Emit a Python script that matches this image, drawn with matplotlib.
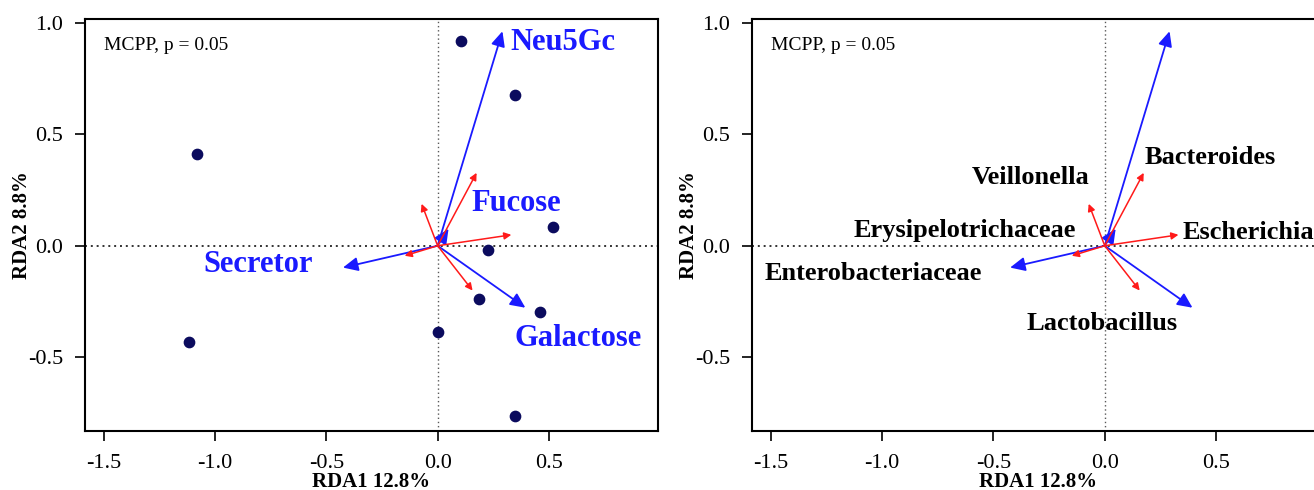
import matplotlib
matplotlib.use("Agg")
import matplotlib.pyplot as plt

# -----------------------------
# Data
# -----------------------------

site_x = [0.107, 0.349, -1.079, 0.519, 0.228, 0.184, 0.461, 0.0, -1.115, 0.349]
site_y = [0.918, 0.676, 0.412, 0.085, -0.018, -0.237, -0.295, -0.385, -0.434, -0.765]

# environmental vectors (blue)
env_x = [0.291, -0.425, 0.394, 0.049]
env_y = [0.962, -0.098, -0.278, 0.076]
env_labels = ["Neu5Gc", "Secretor", "Galactose", "Fucose"]
env_lab_x = [0.561, -0.807, 0.632, 0.354]
env_lab_y = [0.910, -0.085, -0.417, 0.188]

# genus vectors (red)
gen_x = [0.175, -0.072, 0.331, -0.148, 0.157]
gen_y = [0.327, 0.188, 0.049, -0.045, -0.201]

# right panel labels
taxa_labels = ["Bacteroides", "Veillonella", "Erysipelotrichaceae",
               "Escherichia", "Enterobacteriaceae", "Lactobacillus"]
taxa_lab_x = [0.473, -0.332, -0.628, 0.643, -1.038, -0.011]
taxa_lab_y = [0.395, 0.305, 0.067, 0.058, -0.126, -0.350]

x_ticks = [-1.5, -1.0, -0.5, 0.0, 0.5]
y_ticks = [-0.5, 0.0, 0.5, 1.0]

plt.rcParams["font.family"] = ["Liberation Serif", "DejaVu Serif"]

fig = plt.figure(figsize=(13.14, 4.9), dpi=100)
ax1 = fig.add_axes([0.0644, 0.1204, 0.4361, 0.8408])
ax2 = fig.add_axes([0.5721, 0.1204, 0.4361, 0.8408])


def draw_base(ax):
    ax.set_xlim(-1.585, 0.988)
    ax.set_ylim(-0.831, 1.017)
    ax.axhline(0, color="0.2", linestyle=(0, (1, 2)), lw=1.4, zorder=1)
    ax.axvline(0, color="0.35", linestyle=(0, (1, 2)), lw=1.0, zorder=1)
    ax.set_xticks(x_ticks)
    ax.set_yticks(y_ticks)
    ax.set_xticklabels([f"{t:.1f}" for t in x_ticks])
    ax.set_yticklabels([f"{t:.1f}" for t in y_ticks])
    ax.tick_params(direction="out", length=7.5, width=1.2, labelsize=16)
    ax.tick_params(axis="x", pad=9)
    ax.tick_params(axis="y", pad=8)
    for s in ax.spines.values():
        s.set_linewidth(1.5)
    ax.set_xlabel("RDA1 12.8%", fontsize=15, fontweight="bold")
    ax.xaxis.set_label_coords(0.5, -0.100)
    ax.set_ylabel("RDA2 8.8%", fontsize=15, fontweight="bold", va="center")
    ax.yaxis.set_label_coords(-0.109, 0.5)
    ax.text(-1.50, 0.897, "MCPP, p = 0.05", fontsize=14, va="center", ha="left")

    for x, y in zip(env_x, env_y):
        ax.annotate("", xy=(x, y), xytext=(0, 0),
                    arrowprops=dict(arrowstyle="-|>,head_length=0.6,head_width=0.28",
                                    color="#1a1aff", lw=1.3, mutation_scale=15,
                                    shrinkA=0, shrinkB=0), zorder=3)
    for x, y in zip(gen_x, gen_y):
        ax.annotate("", xy=(x, y), xytext=(0, 0),
                    arrowprops=dict(arrowstyle="-|>,head_length=0.6,head_width=0.3",
                                    color="#ff1a1a", lw=1.1, mutation_scale=7,
                                    shrinkA=0, shrinkB=0), zorder=4)


draw_base(ax1)
ax1.scatter(site_x, site_y, s=55, color="#0b0b5e", zorder=5)
for lab, x, y in zip(env_labels, env_lab_x, env_lab_y):
    ax1.text(x, y, lab, color="#1a1aff", fontsize=22, fontweight="bold",
             ha="center", va="center", zorder=6)

draw_base(ax2)
for lab, x, y in zip(taxa_labels, taxa_lab_x, taxa_lab_y):
    ax2.text(x, y, lab, color="black", fontsize=19, fontweight="bold",
             ha="center", va="center", zorder=6, clip_on=False)

fig.savefig("out.png", dpi=100)
